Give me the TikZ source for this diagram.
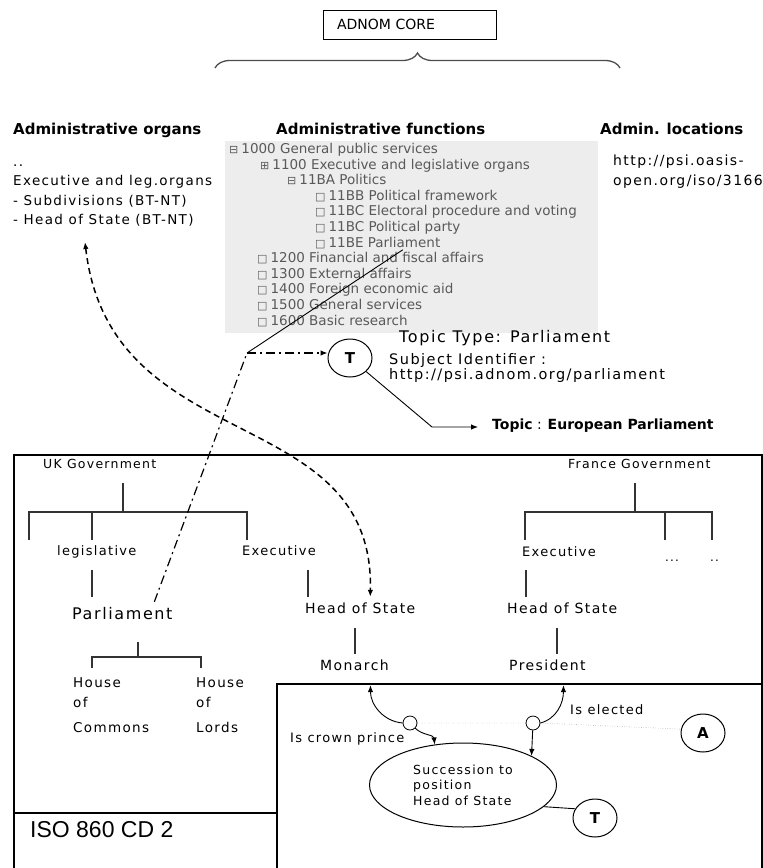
\documentclass[tikz,border=0pt]{standalone}
\usepackage{fontspec}
\setmainfont{DejaVu Sans}
\newfontfamily\bmp[LetterSpace=10]{DejaVu Sans}
\newfontfamily\isofont{Liberation Sans}
\usetikzlibrary{arrows.meta,shapes.geometric,decorations.pathreplacing}
\newcommand\fsz[1]{\fontsize{#1}{#1}\selectfont}
\tikzset{
  lbl/.style={anchor=west, inner sep=0pt, text height=.75em, text depth=.25em},
  bm/.style={lbl, font=\bmp\fsz{#1}},
  item/.style={lbl, font=\fsz{13.5}, text=black!65},
  orgline/.style={line width=1.6pt, black!80},
  frame/.style={line width=1.2pt},
  tcirc/.style={ellipse, draw, line width=1pt, minimum width=44pt, minimum height=38pt, inner sep=0pt, font=\bfseries\fsz{15}},
  knot/.style={circle, draw, line width=.8pt, minimum size=14pt, inner sep=0pt, fill=white},
  dashdot/.style={line width=1.2pt, dash pattern=on 9pt off 4pt on 2pt off 4pt},
}
\begin{document}
\begin{tikzpicture}[x=1pt, y=1pt, >={Latex[length=7pt,width=5.5pt]}]
\useasboundingbox (0,0) rectangle (763,-868);
% core and brace
\node[draw, line width=1pt, minimum height=29pt, text width=145pt, inner xsep=14pt, inner ysep=0pt, align=left, font=\fsz{14}] (core) at (409.5,-24.5) {ADNOM CORE};
\draw[line width=1.3pt, black!70, decorate, decoration={brace, amplitude=15pt}] (215,-68) -- (620,-68);

\node[lbl, font=\bfseries\fsz{15}] (horg) at (13,-132) {Administrative organs};
\node[lbl, font=\bfseries\fsz{15}] (hfun) at (276,-132) {Administrative functions};
\node[lbl, font=\bfseries\fsz{15}] (hloc) at (600,-132) {Admin. locations};

% organs
\foreach \y/\t [count=\i] in {164/.., 183/Executive and leg.organs, 203/- Subdivisions (BT-NT), 222/- Head of State (BT-NT)}
  \node[bm=13.5] (org\i) at (13,-\y) {\t};
\coordinate (orgtip) at (85,-242);

% functions
\fill[black!7] (225,-141) rectangle (598,-333);
\foreach \x/\ic/\t [count=\i] in {229/⊟/1000 General public services, 260/⊞/1100 Executive and legislative organs,
    287/⊟/11BA Politics, 315/□/11BB Political framework, 315/□/11BC Electoral procedure and voting,
    315/□/11BC Political party, 315/□/11BE Parliament, 257/□/1200 Financial and fiscal affairs,
    257/□/1300 External affairs, 257/□/1400 Foreign economic aid, 257/□/1500 General services,
    257/□/1600 Basic research}
  \node[item] (f\i) at (\x,{-151-15.6*(\i-1)}) {{\fsz{11}\ic}\hspace{3pt}\t};

% locations
\node[bm=14] (loc1) at (613,-163) {http://psi.oasis-};
\node[bm=14] (loc2) at (613,-183) {open.org/iso/3166};

% topic
\node[bm=16] (ttype) at (399,-340) {Topic Type: Parliament};
\node[bm=14.5] (subj) at (389,-362) {Subject Identifier :};
\node[bm=14.5] (url) at (389,-377) {http://psi.adnom.org/parliament};
\node[tcirc] (tA) at (350,-358) {T};
\coordinate (tbend) at (432,-427);
\node[lbl, font=\fsz{14}] (topic) at (492,-427) {\textbf{Topic} : \textbf{European Parliament}};
\draw[line width=.9pt, ->, shorten >=14pt] (tA) -- (tbend) -- (topic.west);

% frames
\draw[frame] (14,-868) |- (762,-455) -- (762,-868);
\draw[frame] (277,-868) |- (762,-684);
\draw[frame] (14,-813) -- (277,-813);
\node[lbl, font=\isofont\fsz{23}] (iso) at (30,-835) {ISO 860 CD 2};

% UK government
\node[bm=12.5] (ukgov) at (43,-466) {UK Government};
\node[bm=13] (legis) at (57,-553) {legislative};
\node[bm=13] (exuk) at (242,-553) {Executive};
\node[bm=16] (parl) at (72,-617) {Parliament};
\node[bm=14] (hosuk) at (305,-611) {Head of State};
\node[bm=14] (monarch) at (320,-668) {Monarch};
\foreach \x/\a/\b in {73/House/Commons, 196/House/Lords}{
  \node[bm=13.5] at (\x,-685) {\a};
  \node[bm=13.5] at (\x,-705) {of};
  \node[bm=13.5] at (\x,-730) {\b};
}
\draw[orgline] (123,-483) -- (123,-512) (29,-540) |- (247,-512) -- (247,-540) (92,-512) -- (92,-540);
\draw[orgline] (92,-570) -- (92,-597) (308,-570) -- (308,-597) (355,-628) -- (355,-654);
\draw[orgline] (138,-642) -- (138,-657) (92,-668) |- (201,-657) -- (201,-668);

% France government
\node[bm=12.5] (frgov) at (568,-466) {France Government};
\node[bm=13] (exfr) at (522,-554) {Executive};
\node[bm=12] (dots1) at (665,-559) {...};
\node[bm=12] (dots2) at (710,-559) {..};
\node[bm=14] (hosfr) at (507,-611) {Head of State};
\node[bm=14] (pres) at (509,-668) {President};
\draw[orgline] (635,-483) -- (635,-512) (525,-540) |- (712,-512) -- (712,-540) (665,-512) -- (665,-540);
\draw[orgline] (526,-570) -- (526,-597) (557,-628) -- (557,-654);

% succession
\node[ellipse, draw, line width=1pt, minimum width=187pt, minimum height=84pt, inner sep=0pt, align=left, font=\bmp\fsz{12.5}] (succ) at (463,-785) {Succession to\\[3pt]position\\[3pt]Head of State};
\node[knot] (c1) at (410,-723) {};
\node[knot] (c2) at (533,-723) {};
\node[tcirc] (nA) at (703,-733) {A};
\node[tcirc] (tB) at (595,-818) {T};
\node[bm=13] (crown) at (290,-740) {Is crown prince};
\node[bm=13] (elect) at (570,-712) {Is elected};
\draw[dotted, black!60] (c1.east) -- (c2.west) (c2.east) -- (nA.170);
\draw[line width=.9pt, ->] (c1.west) to[out=175, in=-90] ([xshift=16pt,yshift=-12pt]monarch.south);
\draw[line width=.9pt, ->] (c1.south east) to[out=-45, in=95] (succ.125);
\draw[line width=.9pt, ->] (c2.east) to[out=15, in=-90] ([xshift=16pt,yshift=-12pt]pres.south);
\draw[line width=.9pt, ->] (c2) -- (succ.23);
\draw[line width=.9pt] (succ.-15) -- (tB.155);

% links across
\draw[<->, line width=1.5pt, dash pattern=on 6pt off 4pt] (orgtip) .. controls (110,-460) and (375,-400) .. ([xshift=10pt,yshift=9pt]hosuk.north);
\coordinate (kink) at (247,-353);
\draw[dashdot] ([xshift=32pt,yshift=10pt]parl.north) -- (kink);
\draw[dashdot, ->] (kink) -- (kink -| tA.west);
\draw[line width=.9pt] (kink) -- ([xshift=25pt]f7.south);
\end{tikzpicture}
\end{document}
